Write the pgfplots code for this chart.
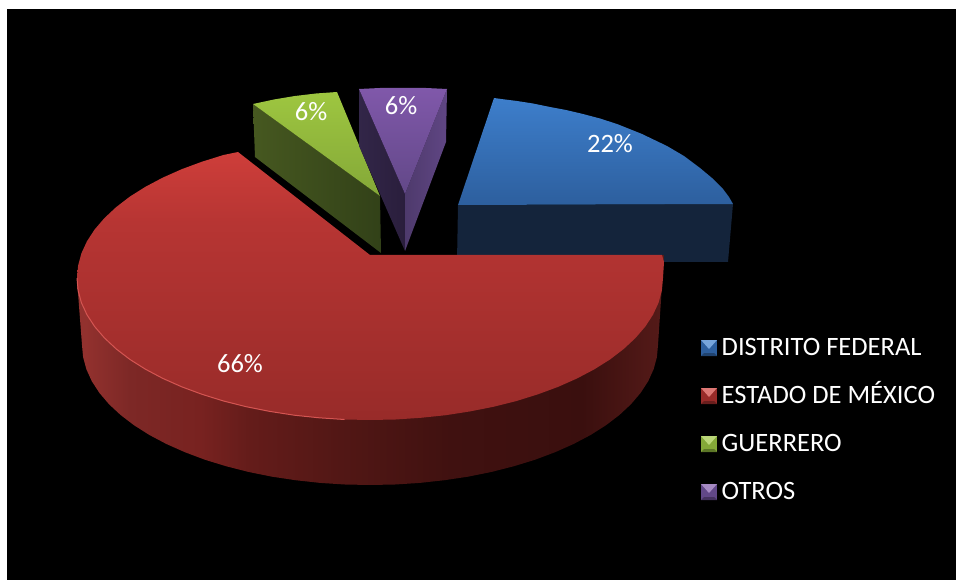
\documentclass[border=0pt]{standalone}
\usepackage{pgfplots}
\pgfplotsset{compat=1.18}
\usepackage{fontspec}
\setmainfont{Carlito}
\definecolor{rt1}{RGB}{206,62,58}
\definecolor{rt2}{RGB}{183,53,51}
\definecolor{rt3}{RGB}{152,43,41}
\pgfdeclareverticalshading{redtop}{100bp}{color(0bp)=(rt3);color(25bp)=(rt3);color(62bp)=(rt2);color(75bp)=(rt1);color(100bp)=(rt1)}
\definecolor{rw1}{RGB}{146,49,46}
\definecolor{rw2}{RGB}{125,40,38}
\definecolor{rw3}{RGB}{120,34,32}
\definecolor{rw4}{RGB}{100,28,26}
\definecolor{rw5}{RGB}{82,23,21}
\definecolor{rw6}{RGB}{64,17,16}
\definecolor{rw7}{RGB}{58,15,14}
\definecolor{rw8}{RGB}{84,26,24}
\pgfdeclarehorizontalshading{redwall}{100bp}{color(0bp)=(rw1);color(25.7bp)=(rw1);color(29.5bp)=(rw2);color(35.5bp)=(rw3);color(39.7bp)=(rw4);color(47.4bp)=(rw5);color(56.8bp)=(rw6);color(68bp)=(rw7);color(74.7bp)=(rw8);color(100bp)=(rw8)}
\definecolor{bt1}{RGB}{61,126,203}
\definecolor{bt2}{RGB}{45,95,158}
\pgfdeclareverticalshading{bluetop}{100bp}{color(0bp)=(bt2);color(25bp)=(bt2);color(75bp)=(bt1);color(100bp)=(bt1)}
\definecolor{gt1}{RGB}{158,198,64}
\definecolor{gt2}{RGB}{132,168,56}
\pgfdeclareverticalshading{greentop}{100bp}{color(0bp)=(gt2);color(25bp)=(gt2);color(75bp)=(gt1);color(100bp)=(gt1)}
\definecolor{pt1}{RGB}{128,88,170}
\definecolor{pt2}{RGB}{98,72,136}
\pgfdeclareverticalshading{purpletop}{100bp}{color(0bp)=(pt2);color(25bp)=(pt2);color(75bp)=(pt1);color(100bp)=(pt1)}
\definecolor{gw1}{RGB}{70,88,32}
\definecolor{gw2}{RGB}{50,65,24}
\pgfdeclarehorizontalshading{greenwall}{100bp}{color(0bp)=(gw1);color(25bp)=(gw1);color(75bp)=(gw2);color(100bp)=(gw2)}
\definecolor{pl1}{RGB}{50,38,72}
\definecolor{pl2}{RGB}{42,30,60}
\pgfdeclarehorizontalshading{purpleleft}{100bp}{color(0bp)=(pl1);color(25bp)=(pl1);color(75bp)=(pl2);color(100bp)=(pl2)}
\definecolor{pr1}{RGB}{78,58,108}
\definecolor{pr2}{RGB}{96,70,132}
\pgfdeclarehorizontalshading{purpleright}{100bp}{color(0bp)=(pr1);color(25bp)=(pr1);color(75bp)=(pr2);color(100bp)=(pr2)}
\definecolor{bwall}{RGB}{20,36,59}
\newcommand{\lab}{\fontsize{26.5}{30}\selectfont}
\begin{document}
\begin{tikzpicture}
\begin{axis}[
  hide axis, scale only axis, width=956pt, height=580pt,
  xmin=0, xmax=956, ymin=0, ymax=580, y dir=reverse,
  clip=false, no markers,
  every axis plot/.append style={line width=0pt, draw=none, forget plot}
]
% page and black panel
\addplot[fill=white] coordinates {(0,0)(956,0)(956,580)(0,580)} -- cycle;
\addplot[fill=black] coordinates {(7,9)(956,9)(956,580)(7,580)} -- cycle;
% blue slice
\addplot[fill=bwall] coordinates {(458,205)(733,204)(728,262)(457,262)} -- cycle;
\addplot[shade, shading=bluetop] coordinates {(494,98)(505,99.5)(517,101)(533,103.5)(550,107)(566,110)(583,114)(600,118.5)(617,124)(642,134)(667,146)(684,156)(700,168)(712,178)(723,189)(729,197)(733,204)(458,205)} -- cycle;
% green slice
\addplot[shade, shading=greenwall] coordinates {(253,104)(380,196)(381,253)(255,157)} -- cycle;
\addplot[shade, shading=greentop] coordinates {(253,104)(274,99.5)(295,96)(316,93.5)(337,92)(380,196)} -- cycle;
% purple slice
\addplot[shade, shading=purpleleft] coordinates {(359,89)(405,194)(405,251)(359,146)} -- cycle;
\addplot[shade, shading=purpleright] coordinates {(447,89)(405,194)(405,251)(446,142)} -- cycle;
\addplot[shade, shading=purpletop] coordinates {(359,89)(380,88)(403,88)(426,88)(447,89)(405,194)} -- cycle;
% red slice wall
\addplot[shade, shading=redwall] coordinates {(77,280)(82,345)(83.1,357.2)(86.4,369.3)(91.8,381.2)(99.4,392.9)(109,404.2)(120.6,415)(134.1,425.3)(149.4,435)(166.4,444)(184.9,452.2)(204.8,459.7)(226,466.2)(248.3,471.9)(271.5,476.6)(295.5,480.2)(320,482.9)(344.9,484.5)(370,485)(395.1,484.5)(420,482.9)(444.5,480.2)(468.5,476.6)(491.7,471.9)(514,466.2)(535.2,459.7)(555.1,452.2)(573.6,444)(590.6,435)(605.9,425.3)(619.4,415)(631,404.2)(640.6,392.9)(648.2,381.2)(653.6,369.3)(656.9,357.2)(658,345)(664,255)} -- cycle;
% red slice top
\addplot[shade, shading=redtop] coordinates {(370,255)(238,152)(223.5,155)(202,161.7)(181.7,169.2)(162.8,177.6)(145.6,186.7)(130,196.5)(116.3,207)(104.5,218)(94.7,229.4)(87,241.2)(81.4,253.3)(78.1,265.6)(77,278)(78.1,290.4)(81.4,302.7)(87,314.8)(94.7,326.6)(104.5,338)(116.3,349)(130,359.5)(145.6,369.3)(162.8,378.4)(181.7,386.8)(202,394.3)(223.5,401)(246.2,406.7)(269.8,411.4)(294.2,415.2)(319.1,417.8)(344.5,419.5)(370,420)(395.5,419.5)(420.9,417.8)(445.8,415.2)(470.2,411.4)(493.8,406.7)(516.5,401)(538,394.3)(558.3,386.8)(577.2,378.4)(594.4,369.3)(610,359.5)(623.7,349)(635.5,338)(645.3,326.6)(653,314.8)(658.6,302.7)(661.9,290.4)(663,278)(664,262)(662,255)} -- cycle;
% rim highlight
\addplot[draw=rt1!88!white, line width=1pt] coordinates {(77,278)(78.1,290.4)(81.4,302.7)(87,314.8)(94.7,326.6)(104.5,338)(116.3,349)(130,359.5)(145.6,369.3)(162.8,378.4)(181.7,386.8)(202,394.3)(223.5,401)(246.2,406.7)(269.8,411.4)(294.2,415.2)(319.1,417.8)(344.5,419.5)};
% legend keys
\addplot[fill=bt2] coordinates {(701,340)(717,340)(717,356)(701,356)} -- cycle;
\addplot[fill=bt1!70!white] coordinates {(701,340)(717,340)(709,349)} -- cycle;
\addplot[fill=bt2!70!black] coordinates {(701,356)(717,356)(714,353)(704,353)} -- cycle;
\addplot[fill=rt3] coordinates {(701,388)(717,388)(717,404)(701,404)} -- cycle;
\addplot[fill=rt1!70!white] coordinates {(701,388)(717,388)(709,397)} -- cycle;
\addplot[fill=rt3!70!black] coordinates {(701,404)(717,404)(714,401)(704,401)} -- cycle;
\addplot[fill=gt2] coordinates {(701,436)(717,436)(717,452)(701,452)} -- cycle;
\addplot[fill=gt1!70!white] coordinates {(701,436)(717,436)(709,445)} -- cycle;
\addplot[fill=gt2!70!black] coordinates {(701,452)(717,452)(714,449)(704,449)} -- cycle;
\addplot[fill=pt2] coordinates {(701,484)(717,484)(717,500)(701,500)} -- cycle;
\addplot[fill=pt1!70!white] coordinates {(701,484)(717,484)(709,493)} -- cycle;
\addplot[fill=pt2!70!black] coordinates {(701,500)(717,500)(714,497)(704,497)} -- cycle;
% text
\node[white, font=\lab] at (axis cs:610,144) {22\%};
\node[white, font=\lab] at (axis cs:311,112) {6\%};
\node[white, font=\lab] at (axis cs:401,106) {6\%};
\node[white, font=\lab] at (axis cs:240,364) {66\%};
\node[white, font=\lab, anchor=base west, inner sep=0pt] at (axis cs:721.5,355) {DISTRITO FEDERAL};
\node[white, font=\lab, anchor=base west, inner sep=0pt] at (axis cs:721.5,403) {ESTADO DE MÉXICO};
\node[white, font=\lab, anchor=base west, inner sep=0pt] at (axis cs:721.5,451) {GUERRERO};
\node[white, font=\lab, anchor=base west, inner sep=0pt] at (axis cs:721.5,499) {OTROS};
\end{axis}
\end{tikzpicture}
\end{document}
